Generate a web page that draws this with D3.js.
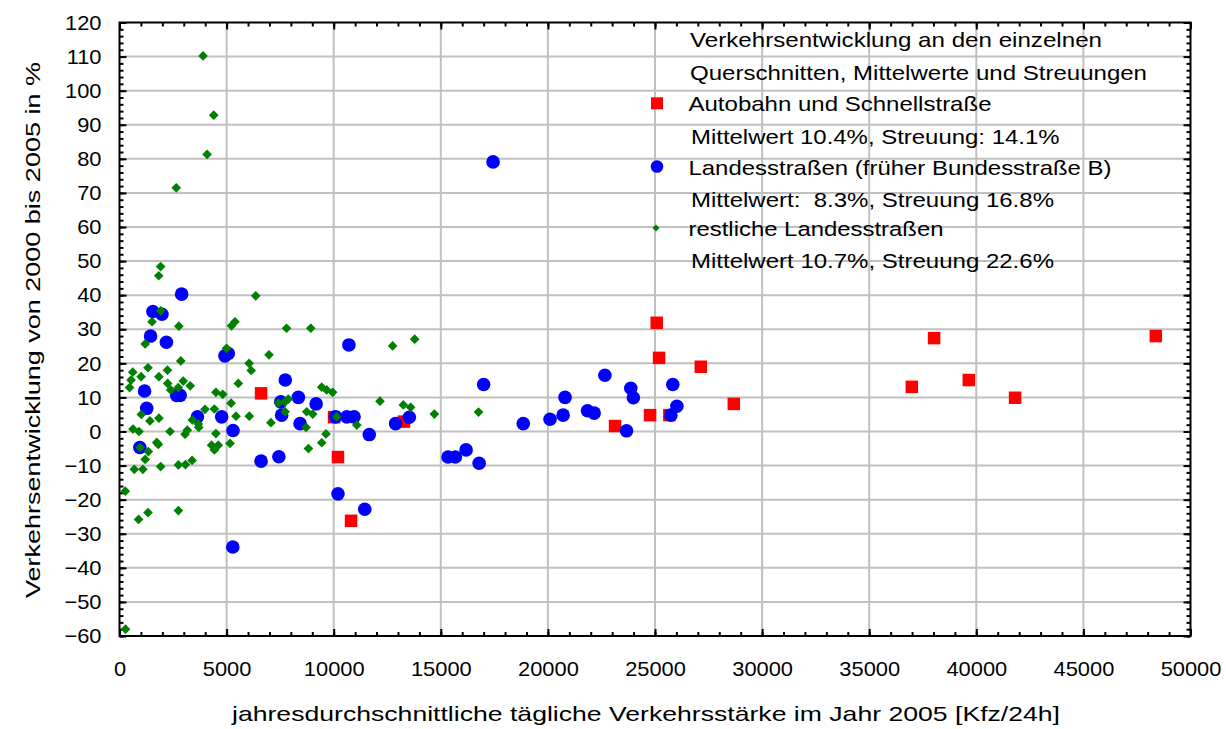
<!DOCTYPE html>
<html>
<head>
<meta charset="utf-8">
<script src="https://cdn.jsdelivr.net/npm/d3@7"></script>
<style>
  html, body { margin: 0; padding: 0; background: #fff; }
  svg { display: block; font-family: "Liberation Sans", Arial, sans-serif; }
</style>
</head>
<body>
<svg id="chart" width="1226" height="729"></svg>
<script>
// ---- data ----
const autobahnX = [6610, 10015, 10200, 10810, 13280, 23135, 24770, 25080, 25190, 25670, 27140, 28680, 36990, 38030, 39650, 41810, 48380];
const autobahnY = [11.2, 4.2, -7.5, -26.2, 2.9, 1.6, 4.8, 31.9, 21.6, 4.8, 19.0, 8.1, 13.1, 27.4, 15.1, 9.9, 28.0];

const bundesX = [17440, 2900, 1560, 1980, 1450, 2190, 10710, 4920, 5080, 7740, 1170, 2670, 2830, 8350, 7530, 9180, 1270, 3640, 4770, 7570, 8430, 10080, 10610, 10950, 5300, 11660, 12890, 950, 6610, 7440, 10200, 11450, 5290, 13530, 17000, 15340, 15680, 16180, 16790, 18850, 20100, 20710, 20800, 21850, 22160, 22660, 23870, 23990, 23670, 25830, 26020, 25740];
const bundesY = [79.1, 40.3, 35.2, 34.4, 28.0, 26.2, 25.4, 22.2, 22.9, 15.1, 11.9, 10.6, 10.6, 10.0, 8.7, 8.1, 6.8, 4.3, 4.3, 4.8, 2.3, 4.3, 4.3, 4.3, 0.3, -0.9, 2.3, -4.7, -8.7, -7.4, -18.3, -22.8, -33.9, 4.2, 13.8, -7.5, -7.5, -5.4, -9.3, 2.3, 3.6, 4.8, 10.0, 6.1, 5.4, 16.5, 12.7, 9.9, 0.2, 13.8, 7.4, 4.8];

const restX = [3900, 4400, 4090, 2650, 1920, 1830, 6360, 1920, 1520, 2770, 5390, 5230, 7800, 8930, 1200, 12750, 13780, 5000, 6980, 2860, 6050, 6150, 620, 1330, 2240, 1010, 1840, 540, 470, 2250, 2975, 3300, 2390, 2745, 5547, 9440, 9670, 9950, 4500, 4820, 5210, 7420, 7730, 7880, 12160, 13250, 13590, 14700, 16760, 7730, 8740, 9020, 1020, 1420, 1840, 3990, 4430, 3400, 3680, 3700, 5440, 6060, 7070, 8710, 10140, 11080, 630, 910, 2360, 3060, 3165, 4500, 9640, 1345, 1740, 1810, 4300, 4610, 4430, 5160, 960, 1200, 690, 1090, 1920, 2750, 3080, 3390, 8820, 9440, 270, 890, 1330, 2750, 280];
const restY = [110.2, 92.8, 81.3, 71.5, 48.4, 45.7, 39.8, 35.4, 32.2, 30.9, 32.2, 31.0, 30.3, 30.3, 25.7, 25.1, 27.1, 24.4, 22.5, 20.7, 20.0, 17.9, 17.4, 18.7, 18.0, 16.1, 16.1, 15.1, 12.9, 14.1, 14.8, 13.4, 12.2, 12.9, 14.1, 13.0, 12.2, 11.5, 11.5, 10.9, 8.3, 8.3, 8.7, 9.5, 8.9, 7.8, 7.1, 5.1, 5.7, 5.8, 5.8, 5.1, 5.0, 3.1, 3.9, 6.5, 6.6, 3.4, 2.2, 1.2, 4.5, 4.5, 2.6, 1.2, 4.3, 1.9, 0.7, 0.0, 0.0, -0.8, 0.4, -0.6, -0.7, -5.9, -3.2, -3.8, -4.0, -4.0, -5.4, -3.5, -4.7, -8.2, -11.1, -11.1, -10.3, -9.8, -9.7, -8.5, -5.0, -3.3, -17.5, -25.8, -23.8, -23.2, -58.0];

const xTicks = [0, 5000, 10000, 15000, 20000, 25000, 30000, 35000, 40000, 45000, 50000];
const yTicks = [-60, -50, -40, -30, -20, -10, 0, 10, 20, 30, 40, 50, 60, 70, 80, 90, 100, 110, 120];

const legendTitle = ["Verkehrsentwicklung an den einzelnen", "Querschnitten, Mittelwerte und Streuungen"];
const seriesNames = ["Autobahn und Schnellstraße", "Landesstraßen (früher Bundesstraße B)", "restliche Landesstraßen"];
const seriesStats = ["Mittelwert 10.4%, Streuung: 14.1%", "Mittelwert:  8.3%, Streuung 16.8%", "Mittelwert 10.7%, Streuung 22.6%"];

const xTitle = "jahresdurchschnittliche tägliche Verkehrsstärke im Jahr 2005 [Kfz/24h]";
const yTitle = "Verkehrsentwicklung von 2000 bis 2005 in %";

// ---- layout ----
const L = 119.5, R = 1190.5, T = 22.5, B = 636;
const FS = 21;
const STRETCH = 1.04;

const svg = d3.select("#chart");
const x = d3.scaleLinear().domain([0, 50000]).range([L, R]);
const y = d3.scaleLinear().domain([-60, 120]).range([B, T]);

// grid
const grid = svg.append("g").attr("stroke", "#c0c0c0").attr("stroke-width", 2);
grid.selectAll("line.v").data(xTicks.slice(1, -1)).join("line")
  .attr("x1", d => x(d)).attr("x2", d => x(d)).attr("y1", T).attr("y2", B);
grid.selectAll("line.h").data(yTicks.slice(1, -1)).join("line")
  .attr("y1", d => y(d)).attr("y2", d => y(d)).attr("x1", L).attr("x2", R);

// axes with inward ticks
function styleAxis(g) {
  g.select(".domain").remove();
  g.selectAll(".tick line").attr("stroke", "#000").attr("stroke-width", 2);
  g.selectAll("text").attr("font-size", FS).attr("fill", "#000").attr("font-family", "Liberation Sans, Arial, sans-serif");
}
const minorX = d3.range(0, 50001, 1000);
const minorY = d3.range(-60, 121, 2);

svg.append("g").attr("transform", `translate(0,${B})`)
  .call(d3.axisBottom(x).tickValues(minorX).tickSizeInner(-4).tickSizeOuter(0).tickFormat(""))
  .call(styleAxis);
svg.append("g").attr("transform", `translate(0,${B})`)
  .call(d3.axisBottom(x).tickValues(xTicks).tickSizeInner(-7).tickSizeOuter(0).tickPadding(25).tickFormat(d3.format("d")))
  .call(styleAxis);
svg.append("g").attr("transform", `translate(0,${T})`)
  .call(d3.axisTop(x).tickValues(minorX).tickSizeInner(-4).tickSizeOuter(0).tickFormat(""))
  .call(styleAxis);
svg.append("g").attr("transform", `translate(0,${T})`)
  .call(d3.axisTop(x).tickValues(xTicks).tickSizeInner(-7).tickSizeOuter(0).tickFormat(""))
  .call(styleAxis);

svg.append("g").attr("transform", `translate(${L},0)`)
  .call(d3.axisLeft(y).tickValues(minorY).tickSizeInner(-4).tickSizeOuter(0).tickFormat(""))
  .call(styleAxis);
svg.append("g").attr("transform", `translate(${L},0)`)
  .call(d3.axisLeft(y).tickValues(yTicks).tickSizeInner(-7).tickSizeOuter(0).tickPadding(18).tickFormat(d3.format("d")))
  .call(styleAxis);
svg.append("g").attr("transform", `translate(${R},0)`)
  .call(d3.axisRight(y).tickValues(minorY).tickSizeInner(-4).tickSizeOuter(0).tickFormat(""))
  .call(styleAxis);
svg.append("g").attr("transform", `translate(${R},0)`)
  .call(d3.axisRight(y).tickValues(yTicks).tickSizeInner(-7).tickSizeOuter(0).tickFormat(""))
  .call(styleAxis);

// frame
svg.append("rect").attr("x", L).attr("y", T).attr("width", R - L).attr("height", B - T)
  .attr("fill", "none").attr("stroke", "#000").attr("stroke-width", 2);

// points
svg.append("defs").append("clipPath").attr("id", "plotclip")
  .append("rect").attr("x", L).attr("y", T).attr("width", R - L).attr("height", B - T);
const pts = svg.append("g").attr("clip-path", "url(#plotclip)");

const autobahn = autobahnX.map((v, i) => [v, autobahnY[i]]);
const bundes = bundesX.map((v, i) => [v, bundesY[i]]);
const rest = restX.map((v, i) => [v, restY[i]]);

const SQ = 12.5;
pts.selectAll("rect.a").data(autobahn).join("rect")
  .attr("x", d => x(d[0]) - SQ / 2).attr("y", d => y(d[1]) - SQ / 2)
  .attr("width", SQ).attr("height", SQ).attr("fill", "#ff0000");
pts.selectAll("circle.b").data(bundes).join("circle")
  .attr("cx", d => x(d[0])).attr("cy", d => y(d[1])).attr("r", 6.8).attr("fill", "#0000ff");
const diamond = d3.symbol().type(d3.symbolDiamond2).size(60);
pts.selectAll("path.r").data(rest).join("path")
  .attr("transform", d => `translate(${x(d[0])},${y(d[1])})`)
  .attr("d", diamond).attr("fill", "#008000");

// legend
const lg = svg.append("g").attr("font-size", FS).attr("fill", "#000");
const legendRows = [
  { text: legendTitle[0], x: 690, y: 40, w: 412 },
  { text: legendTitle[1], x: 690, y: 72.7, w: 457 },
  { text: seriesNames[0], x: 688.5, y: 103.3, w: 303 },
  { text: seriesStats[0], x: 691, y: 136.7, w: 368.5 },
  { text: seriesNames[1], x: 688.5, y: 167.7, w: 423 },
  { text: seriesStats[1], x: 691, y: 200, w: 363 },
  { text: seriesNames[2], x: 688.5, y: 229, w: 255 },
  { text: seriesStats[2], x: 691, y: 260.7, w: 363 }
];
lg.selectAll("text").data(legendRows).join("text")
  .attr("x", d => d.x).attr("y", d => d.y).attr("dy", "0.35em")
  .attr("textLength", d => d.w).attr("lengthAdjust", "spacingAndGlyphs")
  .style("white-space", "pre")
  .text(d => d.text);
lg.append("rect").attr("x", 657 - 6).attr("y", 103.3 - 6).attr("width", 12).attr("height", 12).attr("fill", "#ff0000");
lg.append("circle").attr("cx", 657).attr("cy", 166.5).attr("r", 6.3).attr("fill", "#0000ff");
lg.append("path").attr("transform", "translate(656,228)").attr("d", d3.symbol().type(d3.symbolDiamond2).size(32)).attr("fill", "#008000");

// axis titles
svg.append("text").attr("x", 646).attr("y", 714).attr("dy", "0.35em")
  .attr("text-anchor", "middle").attr("font-size", FS)
  .attr("textLength", 828).attr("lengthAdjust", "spacingAndGlyphs")
  .text(xTitle);
svg.append("text").attr("transform", "translate(33,330) rotate(-90)").attr("dy", "0.35em")
  .attr("text-anchor", "middle").attr("font-size", FS)
  .attr("textLength", 536).attr("lengthAdjust", "spacingAndGlyphs")
  .text(yTitle);

// stretch tick labels horizontally like the reference
svg.selectAll(".tick text").each(function () {
  const w = this.getComputedTextLength();
  if (w > 0) d3.select(this).attr("textLength", w * STRETCH).attr("lengthAdjust", "spacingAndGlyphs");
});
</script>
</body>
</html>
